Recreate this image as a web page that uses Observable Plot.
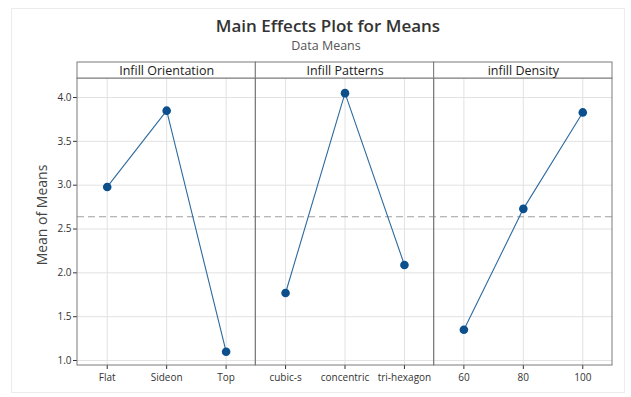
<!DOCTYPE html>
<html>
<head>
<meta charset="utf-8">
<script src="https://cdn.jsdelivr.net/npm/d3@7"></script>
<script src="https://cdn.jsdelivr.net/npm/@observablehq/plot@0.6"></script>
<style>
  html, body { margin: 0; padding: 0; background: #fff; }
  #wrap { position: relative; width: 631px; height: 397px; font-family: "Open Sans", "Noto Sans", sans-serif; overflow: hidden; }
  #border { position: absolute; left: 11px; top: 8px; width: 612px; height: 383px; border: 1px solid #ececec; }
  #title { position: absolute; left: 328px; top: 16.5px; line-height: 1; transform: translateX(-50%); font-size: 17px; font-weight: 600; color: #333; white-space: nowrap; }
  #subtitle { position: absolute; left: 326px; top: 40px; line-height: 1; transform: translateX(-50%); font-size: 12.5px; color: #555; white-space: nowrap; }
  #ylab { position: absolute; left: 42px; top: 215px; line-height: 1; transform: translate(-50%, -50%) rotate(-90deg); font-size: 14px; color: #444; white-space: nowrap; }
  #chart { position: absolute; left: 0; top: 56px; }
</style>
</head>
<body>
<div id="wrap">
  <div id="border"></div>
  <div id="title">Main Effects Plot for Means</div>
  <div id="subtitle">Data Means</div>
  <div id="ylab">Mean of Means</div>
  <div id="chart"></div>
</div>
<script>
const factors = ["Infill Orientation", "Infill Patterns", "infill Density"];
const orientationLevels = ["Flat", "Sideon", "Top"];
const patternLevels = ["cubic-s", "concentric", "tri-hexagon"];
const densityLevels = ["60", "80", "100"];
const orientationMeans = [2.98, 3.85, 1.10];
const patternMeans = [1.77, 4.05, 2.09];
const densityMeans = [1.35, 2.73, 3.83];
const grandMean = 2.64;
const yTicks = [1.0, 1.5, 2.0, 2.5, 3.0, 3.5, 4.0];

const levelSets = [orientationLevels, patternLevels, densityLevels];
const meanSets = [orientationMeans, patternMeans, densityMeans];

const rows = [];
const labels = [];
const panels = [];
let k = 0;
factors.forEach((f, fi) => {
  panels.push({factor: f, start: k, end: k + levelSets[fi].length - 1});
  levelSets[fi].forEach((lv, li) => {
    rows.push({factor: f, level: lv, idx: k, mean: meanSets[fi][li]});
    labels.push(lv);
    k++;
  });
});
const idxs = rows.map(d => d.idx);

const yMin = 0.943, yMax = 4.217, stripH = 0.1825;
const lineColor = "#2d6a9f";
const dotColor = "#0b4f8c";
const frameColor = "#7a7a7a";

const chart = Plot.plot({
  width: 631,
  height: 341,
  marginLeft: 77,
  marginRight: 19,
  marginTop: 22,
  marginBottom: 32,
  style: {fontFamily: "'Open Sans', 'Noto Sans', sans-serif", fontSize: "10px", color: "#333", background: "transparent"},
  x: {type: "linear", domain: [-0.5, k - 0.5], ticks: idxs, tickFormat: i => labels[i], tickSize: 4, tickPadding: 4, label: null},
  y: {domain: [yMin, yMax], ticks: yTicks, tickFormat: d3.format(".1f"), tickSize: 4, tickPadding: 2, label: null},
  marks: [
    Plot.gridX(idxs, {stroke: "#e2e2e2", strokeOpacity: 1}),
    Plot.gridY(yTicks, {stroke: "#e2e2e2", strokeOpacity: 1}),
    Plot.ruleY([grandMean], {stroke: "#a0a0a0", strokeDasharray: "7,4", strokeWidth: 1.2}),
    Plot.line(rows, {x: "idx", y: "mean", z: "factor", stroke: lineColor, strokeWidth: 1.1}),
    Plot.dot(rows, {x: "idx", y: "mean", r: 4.3, fill: dotColor, stroke: null}),
    Plot.rect(panels, {x1: d => d.start - 0.5, x2: d => d.end + 0.5, y1: yMin, y2: yMax, fill: "none", stroke: frameColor, strokeWidth: 1}),
    Plot.rect(panels, {x1: d => d.start - 0.5, x2: d => d.end + 0.5, y1: yMax, y2: yMax + stripH, fill: "#fff", stroke: frameColor, strokeWidth: 1}),
    Plot.text(panels, {x: d => (d.start + d.end) / 2, y: yMax + stripH / 2, text: "factor", fontSize: 12.5, fontWeight: 500, fill: "#222"})
  ]
});
document.getElementById("chart").appendChild(chart);
</script>
</body>
</html>
